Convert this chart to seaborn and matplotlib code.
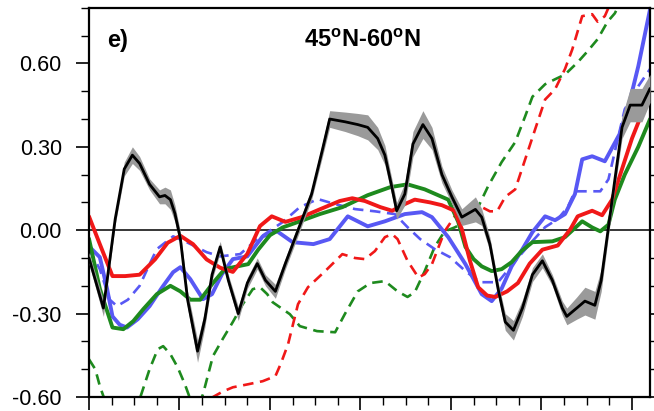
import numpy as np
import matplotlib
matplotlib.use("Agg")
import matplotlib.pyplot as plt
import seaborn as sns
from matplotlib.ticker import MultipleLocator

# reconstructed series (year, anomaly)
black_years = [1400, 1408, 1416, 1429, 1439, 1448, 1456, 1467, 1478, 1484, 1490, 1495, 1501, 1509,
               1520, 1528, 1536, 1545, 1554, 1565, 1575, 1586, 1595, 1606, 1617, 1631, 1646, 1658,
               1666, 1683, 1697, 1708, 1719, 1727, 1735, 1740, 1749, 1758, 1769, 1779, 1790, 1801,
               1812, 1827, 1834, 1843, 1852, 1860, 1869, 1879, 1890, 1901, 1912, 1923, 1928, 1939,
               1948, 1959, 1966, 1974, 1981, 1989, 1998, 2011, 2020]
black_vals = [-0.10, -0.19, -0.28, 0.04, 0.22, 0.27, 0.24, 0.165, 0.12, 0.125, 0.11, 0.06, -0.03, -0.25,
              -0.435, -0.32, -0.16, -0.06, -0.18, -0.30, -0.19, -0.12, -0.18, -0.22, -0.12, 0.0, 0.13, 0.29,
              0.40, 0.39, 0.38, 0.37, 0.33, 0.27, 0.15, 0.07, 0.13, 0.31, 0.38, 0.33, 0.20, 0.12,
              0.047, 0.075, 0.047, -0.05, -0.21, -0.33, -0.36, -0.28, -0.16, -0.11, -0.18, -0.28, -0.31, -0.28,
              -0.255, -0.27, -0.18, 0.01, 0.18, 0.37, 0.45, 0.45, 0.51]
black_spread = [0.02, 0.025, 0.03, 0.02, 0.025, 0.03, 0.025, 0.02, 0.025, 0.03, 0.035, 0.03, 0.025, 0.03,
                0.04, 0.03, 0.02, 0.02, 0.02, 0.025, 0.02, 0.02, 0.02, 0.025, 0.02, 0.02, 0.02, 0.025,
                0.03, 0.035, 0.04, 0.045, 0.04, 0.035, 0.03, 0.03, 0.04, 0.045, 0.05, 0.04, 0.03, 0.025,
                0.03, 0.045, 0.03, 0.025, 0.025, 0.03, 0.035, 0.03, 0.025, 0.025, 0.02, 0.025, 0.03, 0.04,
                0.05, 0.05, 0.04, 0.03, 0.03, 0.04, 0.06, 0.06, 0.05]

red_years = [1400, 1412, 1426, 1440, 1456, 1473, 1487, 1501, 1515, 1530, 1545, 1559, 1575, 1589, 1602,
             1617, 1635, 1655, 1677, 1691, 1705, 1722, 1735, 1749, 1760, 1777, 1790, 1804, 1812, 1821,
             1830, 1840, 1849, 1862, 1874, 1887, 1901, 1918, 1932, 1940, 1956, 1967, 1978, 1989, 2000,
             2011, 2020]
red_vals = [0.05, -0.05, -0.165, -0.165, -0.16, -0.105, -0.045, -0.02, -0.05, -0.105, -0.135, -0.15, -0.085,
            0.015, 0.05, 0.03, 0.047, 0.075, 0.105, 0.115, 0.105, 0.083, 0.07, 0.094, 0.11, 0.10, 0.09, 0.07,
            0.004, -0.11, -0.205, -0.235, -0.24, -0.22, -0.19, -0.12, -0.07, -0.055, 0.004, 0.05, 0.07, 0.054,
            0.11, 0.22, 0.33, 0.42, 0.48]

green_years = [1400, 1412, 1426, 1438, 1449, 1460, 1475, 1490, 1501, 1512, 1523, 1537, 1550, 1564, 1576,
               1587, 1600, 1614, 1633, 1655, 1680, 1708, 1733, 1752, 1771, 1797, 1808, 1816, 1825, 1834,
               1845, 1856, 1867, 1878, 1890, 1912, 1926, 1945, 1956, 1965, 1974, 1981, 1992, 2007, 2020]
green_vals = [-0.03, -0.21, -0.35, -0.356, -0.327, -0.284, -0.23, -0.20, -0.22, -0.25, -0.25, -0.19, -0.14,
              -0.13, -0.122, -0.07, -0.018, 0.01, 0.032, 0.058, 0.083, 0.126, 0.155, 0.165, 0.147, 0.11, 0.03,
              -0.06, -0.104, -0.13, -0.147, -0.14, -0.115, -0.075, -0.043, -0.04, -0.025, 0.032, 0.01, -0.004,
              0.02, 0.11, 0.20, 0.30, 0.40]

blue_years = [1400, 1412, 1420, 1426, 1434, 1442, 1454, 1467, 1481, 1493, 1501, 1512, 1526, 1536, 1547,
              1559, 1575, 1592, 1608, 1625, 1648, 1666, 1686, 1708, 1727, 1749, 1768, 1779, 1797, 1816,
              1834, 1845, 1856, 1867, 1879, 1890, 1904, 1915, 1926, 1937, 1945, 1956, 1970, 1987, 1998,
              2007, 2020]
blue_vals = [-0.058, -0.097, -0.21, -0.31, -0.34, -0.35, -0.32, -0.273, -0.205, -0.151, -0.133, -0.176,
             -0.248, -0.23, -0.158, -0.104, -0.094, -0.022, -0.004, -0.043, -0.05, -0.032, 0.05, 0.014, 0.032,
             0.058, 0.065, 0.047, -0.025, -0.122, -0.23, -0.255, -0.21, -0.13, -0.068, -0.007, 0.05, 0.036,
             0.058, 0.13, 0.255, 0.266, 0.248, 0.35, 0.47, 0.59, 0.795]

blue_dash_years = [1400, 1412, 1423, 1431, 1443, 1456, 1467, 1475, 1493, 1508, 1530, 1545, 1567, 1586,
                   1614, 1633, 1653, 1672, 1694, 1716, 1738, 1752, 1766, 1782, 1799, 1816, 1832, 1852,
                   1871, 1887, 1904, 1918, 1929, 1937, 1954, 1965, 1974, 1983, 1992, 2007, 2020]
blue_dash_vals = [-0.068, -0.14, -0.25, -0.273, -0.25, -0.20, -0.122, -0.068, -0.022, -0.043, -0.079,
                  -0.094, -0.086, -0.032, 0.029, 0.083, 0.112, 0.094, 0.076, 0.068, 0.058, 0.011, -0.032,
                  -0.068, -0.097, -0.147, -0.187, -0.187, -0.111, -0.05, 0.011, 0.04, 0.083, 0.14, 0.14,
                  0.14, 0.183, 0.31, 0.435, 0.518, 0.58]

red_dash_years = [1523, 1537, 1548, 1559, 1576, 1592, 1606, 1612, 1620, 1631, 1642, 1661, 1680, 1694,
                  1705, 1716, 1727, 1735, 1741, 1752, 1764, 1771, 1779, 1793, 1808, 1819, 1830, 1843,
                  1851, 1860, 1871, 1882, 1893, 1904, 1915, 1926, 1934, 1945, 1956, 1962, 1970, 1978]
red_dash_vals = [-0.66, -0.60, -0.58, -0.565, -0.554, -0.543, -0.525, -0.48, -0.41, -0.266, -0.205,
                 -0.147, -0.086, -0.10, -0.104, -0.075, -0.025, -0.014, -0.032, -0.11, -0.17, -0.158,
                 -0.122, -0.004, 0.068, 0.083, 0.09, 0.068, 0.068, 0.12, 0.147, 0.255, 0.363, 0.47,
                 0.507, 0.58, 0.65, 0.77, 0.777, 0.75, 0.77, 0.83]

green_dash_years = [1400, 1407, 1412, 1421, 1432, 1445, 1456, 1467, 1476, 1482, 1490, 1498, 1506, 1514,
                    1519, 1526, 1537, 1548, 1559, 1570, 1581, 1589, 1597, 1603, 1622, 1633, 1652, 1672,
                    1683, 1697, 1711, 1727, 1741, 1752, 1760, 1771, 1782, 1793, 1804, 1816, 1830, 1841,
                    1856, 1871, 1882, 1890, 1904, 1915, 1926, 1940, 1951, 1962, 1973, 1981, 1992]
green_dash_vals = [-0.464, -0.50, -0.56, -0.644, -0.716, -0.68, -0.608, -0.50, -0.428, -0.417, -0.446,
                   -0.493, -0.554, -0.626, -0.65, -0.59, -0.453, -0.39, -0.33, -0.266, -0.212, -0.205,
                   -0.23, -0.259, -0.302, -0.345, -0.363, -0.367, -0.30, -0.22, -0.19, -0.183, -0.22,
                   -0.24, -0.223, -0.147, -0.06, -0.004, 0.01, 0.03, 0.083, 0.158, 0.245, 0.317, 0.41,
                   0.48, 0.525, 0.543, 0.56, 0.604, 0.644, 0.687, 0.75, 0.78, 0.85]

y_ticks = [-0.60, -0.30, 0.00, 0.30, 0.60]
y_tick_labels = ["-0.60", "-0.30", "0.00", "0.30", "0.60"]

sns.set_style("ticks")
plt.rcParams["font.family"] = ["Liberation Sans", "DejaVu Sans"]
plt.rcParams["mathtext.fontset"] = "custom"
plt.rcParams["mathtext.bf"] = "Liberation Sans:bold"
plt.rcParams["axes.unicode_minus"] = False
plt.rcParams["text.color"] = "black"
plt.rcParams["lines.solid_joinstyle"] = "round"
plt.rcParams["lines.solid_capstyle"] = "round"

fig = plt.figure(figsize=(6.54, 4.11), dpi=100)
ax = fig.add_axes([0.136, 0.034, 0.858, 0.947])

ax.axhline(0, color="black", lw=1.1, zorder=1)

dash = (0, (4, 2.5))
sns.lineplot(x=green_dash_years, y=green_dash_vals, color="#1e8a1e", lw=1.9, linestyle=dash, ax=ax)
sns.lineplot(x=red_dash_years, y=red_dash_vals, color="#f01818", lw=1.9, linestyle=dash, ax=ax)
sns.lineplot(x=blue_dash_years, y=blue_dash_vals, color="#5858f4", lw=1.9, linestyle=dash, ax=ax)

sns.lineplot(x=blue_years, y=blue_vals, color="#5858f4", lw=2.8, ax=ax)
sns.lineplot(x=green_years, y=green_vals, color="#1e8a1e", lw=2.8, ax=ax)
sns.lineplot(x=red_years, y=red_vals, color="#f01818", lw=2.8, ax=ax)

bv = np.array(black_vals)
bs = np.array(black_spread)
ax.fill_between(black_years, bv - bs, bv + bs, color="#9a9a9a", lw=0, zorder=4)
sns.lineplot(x=black_years, y=black_vals, color="black", lw=2.0, ax=ax, zorder=5)

ax.set_xlim(1400, 2020)
ax.set_ylim(-0.6, 0.8)
ax.xaxis.set_major_locator(MultipleLocator(100))
ax.xaxis.set_minor_locator(MultipleLocator(25))
ax.set_yticks(y_ticks)
ax.set_yticklabels(y_tick_labels)
ax.yaxis.set_minor_locator(MultipleLocator(0.1))
ax.tick_params(axis="both", which="major", direction="out", length=9.5, width=1.2,
               labelsize=15.5, pad=10, colors="black")
ax.tick_params(axis="both", which="minor", direction="out", length=5.5, width=1.0, colors="black")
ax.tick_params(axis="x", labelbottom=False)
ax.tick_params(axis="y", right=True, which="both")
ax.set_xlabel("")
ax.set_ylabel("")
for s in ax.spines.values():
    s.set_linewidth(1.6)
    s.set_color("black")

ax.text(0.032, 0.915, "e)", transform=ax.transAxes, fontsize=17, fontweight="bold",
        va="center", ha="left", color="black")
ax.text(0.488, 0.915, r"45$^\mathbf{o}$N-60$^\mathbf{o}$N", transform=ax.transAxes,
        fontsize=17, fontweight="bold", va="center", ha="center", color="black")

fig.savefig("out.png", dpi=100)
